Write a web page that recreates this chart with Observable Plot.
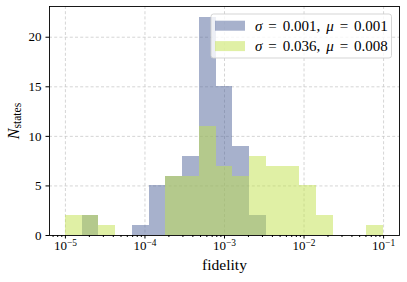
<!DOCTYPE html>
<html><head><meta charset="utf-8">
<script src="https://cdn.jsdelivr.net/npm/d3@7"></script>
<script src="https://cdn.jsdelivr.net/npm/@observablehq/plot@0.6"></script>
<style>
html,body{margin:0;padding:0;background:#fff;}
#chart{position:relative;width:407px;height:282px;}
</style></head><body><div id="chart"></div>
<script>
// log-spaced bins: 10^-5 .. 10^-1 split into 19 equal log-width bins
const binExpStart = -5, binExpEnd = -1, binCount = 19;
const countsA = [0,2,0,0,1,5,6,8,22,15,9,2,0,0,0,0,0,0,0];
const countsB = [2,2,1,0,0,0,6,6,11,7,6,8,7,7,5,2,0,0,1];
const seriesLabels = [["σ"," = 0.001, ","μ"," = 0.001"],["σ"," = 0.036, ","μ"," = 0.008"]];
const seriesColors = ["#4f6399", "#c1e14b"];
const xTicks = [1e-5, 1e-4, 1e-3, 1e-2, 1e-1];
const yTicks = [0, 5, 10, 15, 20];
const xLabel = "fidelity";
const yLabelMain = "N", yLabelSub = "states";

const edges = d3.range(binCount + 1).map(k => 10 ** (binExpStart + (binExpEnd - binExpStart) * k / binCount));
const toRows = (counts, s) => counts.map((c, k) => ({x1: edges[k], x2: edges[k + 1], y: c, s})).filter(r => r.y > 0);
const rowsA = toRows(countsA, 0), rowsB = toRows(countsB, 1);

const minorTicks = [];
for (let e = -6; e <= -1; e++) for (let m = 2; m <= 9; m++) {
  const v = m * 10 ** e;
  if (v > 10 ** -5.2 && v < 10 ** -0.8) minorTicks.push(v);
}

const svg = Plot.plot({
  width: 407, height: 282,
  marginLeft: 49, marginRight: 8, marginTop: 6, marginBottom: 47,
  style: {fontFamily: "'Liberation Serif', serif", fontSize: "13px", background: "#fff", color: "#000"},
  x: {type: "log", domain: [10 ** -5.2, 10 ** -0.8]},
  y: {domain: [0, 23.1]},
  marks: [
    Plot.ruleX(xTicks, {stroke: "#cacaca", strokeWidth: 0.8, strokeDasharray: "3,2.2"}),
    Plot.ruleY(yTicks.filter(d => d > 0), {stroke: "#cacaca", strokeWidth: 0.8, strokeDasharray: "3,2.2"}),
    Plot.rectY(rowsA, {x1: "x1", x2: "x2", y: "y", fill: seriesColors[0], fillOpacity: 0.5, shapeRendering: "crispEdges"}),
    Plot.rectY(rowsB, {x1: "x1", x2: "x2", y: "y", fill: seriesColors[1], fillOpacity: 0.5, shapeRendering: "crispEdges"}),
    Plot.frame({stroke: "#000", strokeWidth: 0.9}),
    Plot.axisX(minorTicks, {tickSize: 2, tickFormat: () => "", label: null}),
    Plot.axisX(xTicks, {tickSize: 3.5, tickPadding: 2.2, label: null,
      tickFormat: d => "10^" + String(Math.round(Math.log10(d))).replace("-", "−")}),
    Plot.axisY(yTicks, {tickSize: 3.5, tickPadding: 4.5, label: null}),
    Plot.text([xLabel], {text: d => d, frameAnchor: "bottom", lineAnchor: "bottom", dy: 34.7, fontSize: 15.5})
  ]
});
document.getElementById("chart").appendChild(svg);

const S = d3.select(svg);
S.selectAll('g[aria-label="x-axis tick label"] text').each(function () {
  const t = this.textContent;
  if (!t.includes("^")) return;
  const [base, exp] = t.split("^");
  const sel = d3.select(this);
  sel.text(base);
  sel.append("tspan").attr("dy", "-0.45em").attr("font-size", "0.72em").text(exp);
});

// y label
const yl = S.append("text")
  .attr("transform", "translate(18.5,121) rotate(-90)")
  .attr("text-anchor", "middle")
  .attr("font-size", 16)
  .attr("fill", "#000");
yl.append("tspan").attr("font-style", "italic").text(yLabelMain);
yl.append("tspan").attr("font-size", "0.72em").attr("dy", "0.25em").text(yLabelSub);

// legend
const lg = S.append("g").attr("text-anchor", "start");
lg.append("rect").attr("x", 211).attr("y", 14).attr("width", 180.5).attr("height", 44)
  .attr("rx", 2.5).attr("ry", 2.5)
  .style("fill", "#ffffff").style("fill-opacity", "0.8").style("stroke", "#d0d0d0").style("stroke-width", "0.9");
seriesLabels.forEach((parts, i) => {
  const y0 = 20.7 + i * 20.4;
  lg.append("rect").attr("x", 215).attr("y", y0).attr("width", 30).attr("height", 10)
    .style("fill", seriesColors[i]).style("fill-opacity", "0.5");
  const tx = lg.append("text").attr("x", 255).attr("y", y0 + 10).attr("font-size", 15)
    .attr("text-anchor", "start")
    .style("word-spacing", "2.2px").style("fill", "#000");
  parts.forEach((p, j) => {
    const ts = tx.append("tspan").text(p);
    if (j % 2 === 0) ts.attr("font-style", "italic");
  });
});
</script></body></html>
